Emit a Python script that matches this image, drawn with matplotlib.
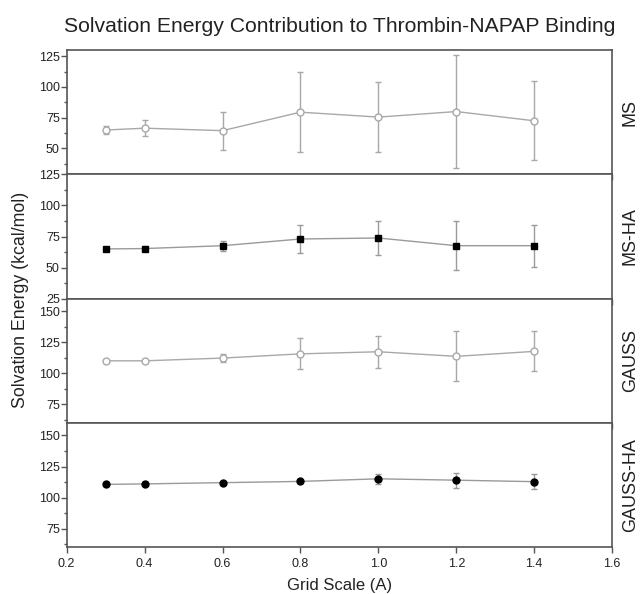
import numpy as np
import matplotlib
matplotlib.use('Agg')
import matplotlib.pyplot as plt
from matplotlib.ticker import AutoMinorLocator, MultipleLocator

plt.rcParams['font.family'] = ['Liberation Sans', 'DejaVu Sans']

grid_scale = [0.3, 0.4, 0.6, 0.8, 1.0, 1.2, 1.4]

ms = [65, 66.5, 64.5, 79.5, 75.5, 80, 72.5]
ms_err = [3, 6.5, 15.5, 32.5, 28.5, 46, 32]

ms_ha = [65, 65.3, 67.6, 73, 73.8, 67.6, 67.6]
ms_ha_err = [1.5, 2, 4, 11, 13.7, 19.6, 17]

gauss = [110, 110, 112.2, 115.6, 117.3, 113.6, 117.6]
gauss_err = [1, 1, 3.5, 12.5, 12.8, 20, 16]

gauss_ha = [110.6, 111, 112, 113, 115.1, 114, 112.8]
gauss_ha_err = [1.2, 1.2, 1.2, 1.5, 4, 6, 6]

panel_names = ['MS', 'MS-HA', 'GAUSS', 'GAUSS-HA']

light = '#a8a8a8'
mid = '#9a9a9a'
spine_col = '#555555'

panels = [
    (ms, ms_err, 'o', 'white', light, light, (29, 130), [50, 75, 100, 125]),
    (ms_ha, ms_ha_err, 's', 'black', 'black', mid, (25, 125), [25, 50, 75, 100, 125]),
    (gauss, gauss_err, 'o', 'white', light, light, (60, 160), [75, 100, 125, 150]),
    (gauss_ha, gauss_ha_err, 'o', 'black', 'black', mid, (60, 160), [75, 100, 125, 150]),
]

fig, axs = plt.subplots(4, 1, figsize=(6.43, 5.94), dpi=100, sharex=True)
fig.subplots_adjust(left=0.1037, right=0.952, top=0.9158, bottom=0.0786, hspace=0)

for ax, (vals, errs, mk, mfc, mec, lc, ylim, yt), name in zip(axs, panels, panel_names):
    ax.errorbar(grid_scale, vals, yerr=errs, color=lc, ecolor=lc, elinewidth=1,
                capsize=2.5, capthick=1, lw=1, marker=mk, ms=5,
                mfc=mfc, mec=mec, mew=1, zorder=3)
    ax.set_ylim(*ylim)
    ax.set_yticks(yt)
    ax.yaxis.set_minor_locator(AutoMinorLocator(2))
    ax.set_xlim(0.2, 1.6)
    ax.xaxis.set_major_locator(MultipleLocator(0.2))
    ax.tick_params(axis='y', which='major', direction='out', length=4, width=1,
                   colors=spine_col, labelcolor='#222222', labelsize=9, pad=1)
    ax.tick_params(axis='y', which='minor', direction='out', length=2, width=1,
                   colors=spine_col)
    ax.tick_params(axis='x', which='major', direction='out', length=4, width=1,
                   colors=spine_col, labelcolor='#222222', labelsize=9)
    for s in ax.spines.values():
        s.set_color(spine_col)
        s.set_linewidth(1.2)
    ax.text(1.033, 0.5, name, transform=ax.transAxes, rotation=90,
            ha='center', va='center', fontsize=13, color='#222222')

axs[0].set_title('Solvation Energy Contribution to Thrombin-NAPAP Binding',
                 fontsize=15.2, color='#222222', pad=13)
axs[-1].set_xlabel('Grid Scale (A)', fontsize=12, color='#222222', labelpad=6)
fig.text(0.032, 0.495, 'Solvation Energy (kcal/mol)', rotation=90, ha='center',
         va='center', fontsize=12.8, color='#222222')

fig.savefig('out.png', dpi=100)
